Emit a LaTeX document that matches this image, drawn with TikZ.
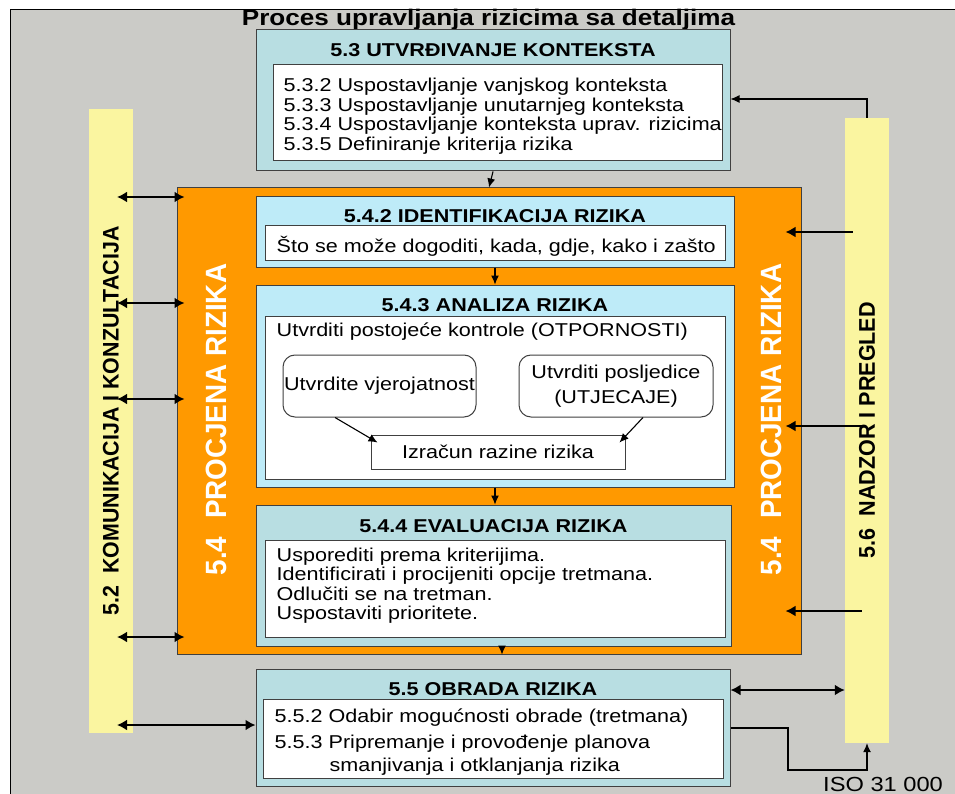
\documentclass[tikz,border=0pt]{standalone}
\usepackage{fontspec}
\setmainfont{Liberation Sans}[FakeStretch=1.16]
\newfontfamily\rotfont{Liberation Sans}[FakeStretch=0.95]
\usepackage{xcolor}
\definecolor{bgGray}{HTML}{CBCBC7}
\definecolor{barYellow}{HTML}{FAF5A0}
\definecolor{procOrange}{HTML}{FF9900}
\definecolor{boxTeal}{HTML}{B8DEE2}
\definecolor{boxCyan}{HTML}{BEEBF8}
\definecolor{edgeGray}{HTML}{404040}
\usepackage{tikz}
\usetikzlibrary{arrows.meta,positioning,calc}

\begin{document}
\begin{tikzpicture}[x=1pt,y=-1pt,>=Latex,
    box/.style={draw=edgeGray,line width=1pt,inner sep=0pt},
    head/.style={font=\bfseries\fontsize{18.6}{20}\selectfont,anchor=base,inner sep=0pt},
    body/.style={font=\fontsize{18.6}{19.7}\selectfont,anchor=base west,inner sep=0pt},
    bar/.style={fill=barYellow,inner sep=0pt,minimum width=44pt},
    thinarr/.style={->,line width=1.1pt,>={Latex[length=9pt,width=8pt]}},
    dblarr/.style={<->,line width=2.9pt,>={Latex[length=10pt,width=11pt]}},
    onearr/.style={->,line width=2.9pt,>={Latex[length=10pt,width=11pt]}}]
    \useasboundingbox (0,0) rectangle (955,794);
    % background sheet
    \fill[bgGray] (10,10) rectangle (975,815);
    \draw[black,line width=1pt] (975,10) -- (10,10) -- (10,815);
    \node[font=\bfseries\fontsize{22.5}{24}\selectfont,anchor=base,inner sep=0pt] (ttl) at (488.5,26)
      {Proces upravljanja rizicima sa detaljima};

    % side bars
    \node[bar,minimum height=624pt] (comm) at (111,421) {};
    \node[bar,minimum height=625pt] (mon) at (867,430.5) {};
    \node[font=\rotfont\bfseries\fontsize{22.5}{24}\selectfont,rotate=90,inner sep=0pt] (commtxt) at (comm.center)
      {5.2\hspace{0.55em}KOMUNIKACIJA I KONZULTACIJA};
    \node[font=\rotfont\bfseries\fontsize{22.7}{24}\selectfont,rotate=90,inner sep=0pt] (montxt) at (mon.center)
      {5.6\hspace{0.55em}NADZOR I PREGLED};

    % 5.3
    \node[box,fill=boxTeal,minimum width=474pt,minimum height=141pt] (ctx) at (493,100.5) {};
    \node[head] (ctxttl) at ($(ctx.north)+(0,27)$) {5.3 UTVRĐIVANJE KONTEKSTA};
    \node[box,fill=white,minimum width=449pt,minimum height=96pt] (ctxin) at (497.5,113) {};
    \foreach \ln [count=\i from 0] in {5.3.2 Uspostavljanje vanjskog konteksta,
        5.3.3 Uspostavljanje unutarnjeg konteksta,
        5.3.4 Uspostavljanje konteksta uprav. rizicima,
        5.3.5 Definiranje kriterija rizika}
      \node[body] (ctxl\i) at ($(ctxin.north west)+(11,27+19.7*\i)$) {\ln};

    % 5.4 procjena
    \node[box,fill=procOrange,minimum width=624pt,minimum height=466pt] (assess) at (489,421) {};
    \node[font=\rotfont\bfseries\fontsize{29.3}{31}\selectfont,text=white,rotate=90,inner sep=0pt] (asstxtl)
      at ($(assess.west)+(40,-1.5)$) {5.4\hspace{0.6em}PROCJENA RIZIKA};
    \node[font=\rotfont\bfseries\fontsize{29.3}{31}\selectfont,text=white,rotate=90,inner sep=0pt] (asstxtr)
      at ($(assess.east)+(-30,-1.5)$) {5.4\hspace{0.6em}PROCJENA RIZIKA};

    % 5.4.2
    \node[box,fill=boxCyan,minimum width=478pt,minimum height=70pt] (ident) at (495,232) {};
    \node[head] (identttl) at ($(ident.north)+(0,26)$) {5.4.2 IDENTIFIKACIJA RIZIKA};
    \node[box,fill=white,minimum width=460pt,minimum height=35pt] (identin) at (495,243.5) {};
    \node[body] (identl) at ($(identin.north west)+(12,26.7)$) {Što se može dogoditi, kada, gdje, kako i zašto};

    % 5.4.3
    \node[box,fill=boxCyan,minimum width=478pt,minimum height=202pt] (anal) at (495,386) {};
    \node[head] (analttl) at ($(anal.north)+(0,26.7)$) {5.4.3 ANALIZA RIZIKA};
    \node[box,fill=white,minimum width=460pt,minimum height=163pt] (analin) at (495,397.5) {};
    \node[body] (anall) at ($(analin.north west)+(12,20.7)$) {Utvrditi postojeće kontrole (OTPORNOSTI)};
    \node[box,fill=white,rounded corners=12pt,minimum width=193pt,minimum height=62pt,
      font=\fontsize{18.6}{19.7}\selectfont] (prob) at (379.5,386) {Utvrdite vjerojatnost};
    \node[box,fill=white,rounded corners=12pt,minimum width=194pt,minimum height=62pt,align=center,
      font=\fontsize{18.6}{25}\selectfont] (cons) at (616,386) {Utvrditi posljedice\\(UTJECAJE)};
    \node[box,fill=white,minimum width=254pt,minimum height=34pt,
      font=\fontsize{18.6}{19.7}\selectfont] (calc) at (498,452) {Izračun razine rizika};
    \draw[thinarr] ($(prob.south)+(-44.5,0)$) -- ($(calc.north west)+(7,8)$);
    \draw[thinarr] ($(cons.south)+(27,0)$) -- ($(calc.north east)+(-6,8)$);

    % 5.4.4
    \node[box,fill=boxTeal,minimum width=475pt,minimum height=141pt] (eval) at (493.5,575.5) {};
    \node[head] (evalttl) at ($(eval.north)+(0,27.7)$) {5.4.4 EVALUACIJA RIZIKA};
    \node[box,fill=white,minimum width=460pt,minimum height=97pt] (evalin) at (495,588.5) {};
    \foreach \ln [count=\i from 0] in {Usporediti prema kriterijima.,
        Identificirati i procijeniti opcije tretmana.,
        Odlučiti se na tretman.,
        Uspostaviti prioritete.}
      \node[body] (evall\i) at ($(evalin.north west)+(12,21.7+19.4*\i)$) {\ln};

    % 5.5
    \node[box,fill=boxTeal,minimum width=474pt,minimum height=117pt] (treat) at (493,727.5) {};
    \node[head] (treatttl) at ($(treat.north)+(0,27)$) {5.5 OBRADA RIZIKA};
    \node[box,fill=white,minimum width=460pt,minimum height=79pt] (treatin) at (493,738.5) {};
    \node[body] (treatl1) at ($(treatin.north west)+(12,24)$) {5.5.2 Odabir mogućnosti obrade (tretmana)};
    \node[body] (treatl2) at ($(treatin.north west)+(12,50)$) {5.5.3 Pripremanje i provođenje planova};
    \node[body] (treatl3) at ($(treatin.north west)+(67,73)$) {smanjivanja i otklanjanja rizika};

    % flow down the middle
    \draw[thinarr] (ctx.south) -- (assess.north);
    \draw[thinarr] (ident.south) -- (anal.north);
    \draw[thinarr] (anal.south) -- (anal.south |- eval.north);
    \draw[thinarr] ($(eval.south)+(8.5,0)$) -- ($(eval.south |- assess.south)+(8.5,0)$);

    % komunikacija arrows
    \foreach \yy in {197,303,399,637}
      \draw[dblarr] ($(comm.center |- 0,\yy)+(6,0)$) -- ($(assess.west |- 0,\yy)+(8,0)$);
    \draw[dblarr] ($(comm.center |- 0,725)+(6,0)$) -- (treat.west |- 0,725);

    % nadzor arrows
    \foreach \sx/\yy in {8/232,17/426,17/611}
      \draw[onearr] ($(mon.west |- 0,\yy)+(\sx,0)$) -- ($(assess.east |- 0,\yy)+(-16,0)$);
    \draw[dblarr] (treat.east |- 0,690) -- (mon.west |- 0,690);
    \draw[thinarr] (mon.north) |- (ctx.east |- 0,99);
    \coordinate (isobend) at (788,770);
    \draw[thinarr] (treat.east |- 0,728) -| (isobend) -| (mon.south);
    \node[font=\fontsize{20.4}{22}\selectfont,anchor=base west,inner sep=0pt] (iso) at (823,791.5) {ISO 31 000};
\end{tikzpicture}
\end{document}
